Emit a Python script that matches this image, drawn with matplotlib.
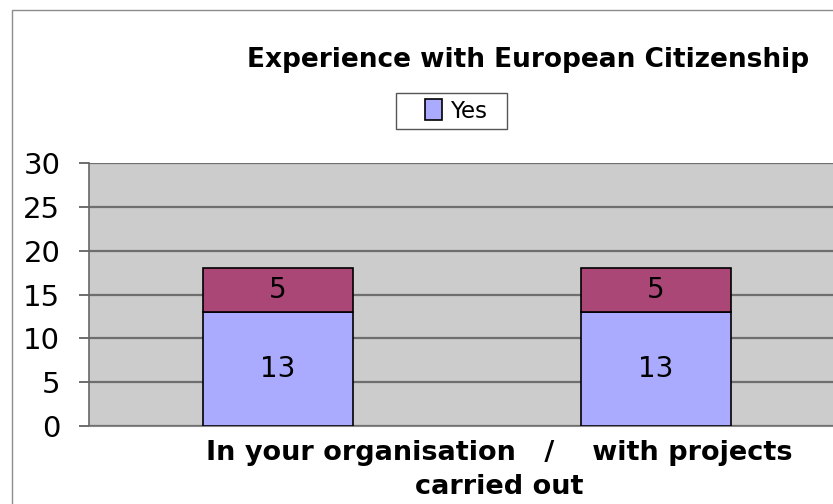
import matplotlib
matplotlib.use("Agg")
import matplotlib.pyplot as plt
from matplotlib.patches import Rectangle
import numpy as np

categories = ["In your organisation", "with projects carried out"]
yes_values = [13, 13]
other_values = [5, 5]
series_names = ["Yes", ""]
title = "Experience with European Citizenship"
xlabel_text = "In your organisation   /    with projects\ncarried out"
yticks = [0, 5, 10, 15, 20, 25, 30]

plt.rcParams['font.family'] = ['DejaVu Sans']

fig = plt.figure(figsize=(8.33, 5.04), dpi=100)
fig.patch.set_facecolor("white")

# outer chart frame
fig.add_artist(Rectangle((12/833, -0.1), 1.2, 1 - 10/504 + 0.1, transform=fig.transFigure,
                         fill=False, edgecolor="#8c8c8c", linewidth=1.0))

ax = fig.add_axes([89/833, 1 - 426/504, (845 - 89)/833, (426 - 163)/504])
ax.set_facecolor("#cccccc")
x = np.arange(len(categories))
w = 0.397
b1 = ax.bar(x, yes_values, width=w, color="#aaaaff", edgecolor="black", linewidth=1.2,
            label=series_names[0], zorder=3)
b2 = ax.bar(x, other_values, bottom=yes_values, width=w, color="#aa4777", edgecolor="black",
            linewidth=1.2, zorder=3)
for xi, v1, v2 in zip(x, yes_values, other_values):
    ax.text(xi, v1 / 2, str(v1), ha="center", va="center", fontsize=20, zorder=4)
    ax.text(xi, v1 + v2 / 2, str(v2), ha="center", va="center", fontsize=20, zorder=4)

ax.set_xlim(-0.5, 1.5)
ax.set_ylim(0, 30)
ax.set_yticks(yticks)
ax.set_yticklabels([str(t) for t in yticks], fontsize=21)
ax.yaxis.grid(True, color="#6e6e6e", linewidth=1.6, zorder=1)
ax.set_axisbelow(True)
ax.set_xticks([])
ax.tick_params(axis="y", length=7.2, width=1.2, color="#555555", pad=13.5)
for s in ["top", "right"]:
    ax.spines[s].set_visible(False)
ax.spines["left"].set_color("#666666")
ax.spines["left"].set_linewidth(1.2)
ax.spines["bottom"].set_color("#888888")

fig.text(528/833, 1 - 60/504, title, ha="center", va="center", fontsize=19, fontweight="bold")
fig.text(499/833, 1 - 470/504, xlabel_text, ha="center", va="center", fontsize=19.5,
         fontweight="bold", linespacing=1.45)

# legend frame and legend
fig.add_artist(Rectangle((396/833, 1 - 129/504), 111/833, 36/504, transform=fig.transFigure,
                         facecolor="white", edgecolor="#555555", linewidth=1.0))
leg = fig.legend(handles=[b1], labels=[series_names[0]], loc="center",
                 bbox_to_anchor=(456/833, 1 - 111/504), fontsize=16.5, frameon=False,
                 handlelength=0.75, handleheight=1.0, handletextpad=0.35, borderpad=0.2)

fig.savefig("out.png", dpi=100)
